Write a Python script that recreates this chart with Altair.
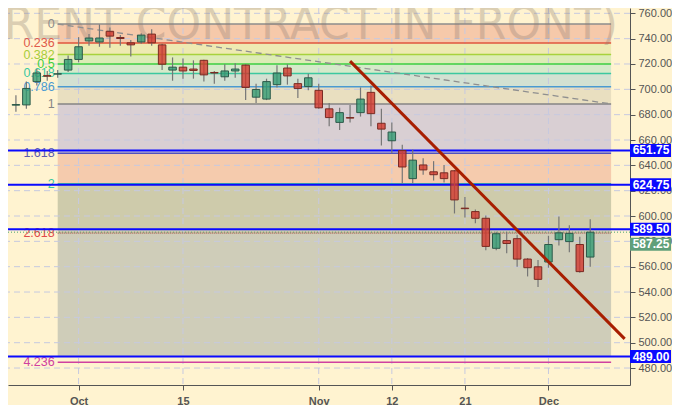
import altair as alt
import pandas as pd

# ---------------- data ----------------
dates = ["Sep 21", "Sep 24", "Sep 25", "Sep 26", "Sep 27", "Sep 28",
         "Oct 1", "Oct 2", "Oct 3", "Oct 4", "Oct 5", "Oct 8", "Oct 9", "Oct 10", "Oct 11", "Oct 12",
         "Oct 15", "Oct 16", "Oct 17", "Oct 18", "Oct 19", "Oct 22", "Oct 23", "Oct 24", "Oct 25", "Oct 26",
         "Oct 29", "Oct 30", "Oct 31", "Nov 1", "Nov 2", "Nov 5", "Nov 6", "Nov 7", "Nov 8", "Nov 9",
         "Nov 12", "Nov 13", "Nov 14", "Nov 15", "Nov 16", "Nov 19", "Nov 20", "Nov 21", "Nov 22", "Nov 23",
         "Nov 26", "Nov 27", "Nov 28", "Nov 29", "Nov 30", "Dec 3", "Dec 4", "Dec 5", "Dec 6", "Dec 7"]
opens = [687.5, 687.7, 706.1, 710.8, 712.0, 715.2, 723.6, 738.2, 737.4, 745.8, 740.9, 736.7, 737.4, 743.6,
         735.1, 715.2, 717.5, 716.0, 722.9, 713.3, 709.9, 714.5, 719.1, 693.8, 692.3, 703.7, 716.8, 704.5,
         702.2, 699.2, 684.6, 673.9, 677.7, 681.6, 697.6, 673.2, 659.4, 651.7, 629.5, 640.3, 634.9, 634.1,
         635.7, 606.2, 603.5, 598.2, 574.5, 580.6, 582.1, 566.0, 559.9, 563.7, 581.3, 579.8, 577.5, 567.6]
highs = [695.3, 706.1, 716.0, 714.5, 715.2, 726.7, 741.2, 743.6, 751.2, 748.9, 742.8, 739.0, 744.3, 747.4,
         735.9, 725.2, 724.4, 722.9, 723.3, 714.5, 719.8, 720.6, 719.8, 704.5, 708.4, 719.1, 719.8, 708.4,
         712.2, 704.5, 689.2, 685.4, 687.7, 701.5, 703.0, 684.6, 673.9, 656.3, 652.5, 645.6, 643.3, 640.3,
         636.4, 615.0, 605.1, 600.5, 587.5, 587.5, 585.2, 566.8, 565.3, 584.4, 599.7, 592.8, 583.6, 597.4]
lows = [682.3, 684.6, 703.0, 706.8, 709.1, 713.7, 721.4, 734.4, 733.6, 732.8, 734.4, 725.9, 735.9, 734.4,
        715.2, 706.8, 708.4, 708.4, 706.1, 704.5, 706.8, 709.1, 691.5, 689.2, 691.5, 701.5, 703.7, 693.1,
        699.2, 684.6, 670.9, 667.8, 673.9, 678.5, 670.9, 655.6, 649.5, 625.7, 625.7, 632.6, 628.0, 626.5,
        602.0, 598.9, 594.3, 572.9, 572.9, 570.6, 559.9, 552.3, 543.9, 559.2, 576.8, 571.4, 555.3, 559.9]
closes = [688.0, 700.7, 712.9, 710.4, 712.3, 723.6, 733.6, 740.5, 740.5, 742.0, 740.1, 735.1, 742.8, 736.7,
          719.8, 717.5, 714.5, 714.9, 711.4, 712.9, 714.5, 716.0, 701.5, 699.9, 706.1, 712.9, 710.6, 700.7,
          709.1, 685.4, 677.7, 681.6, 677.3, 692.3, 680.8, 668.6, 666.3, 638.7, 644.1, 636.4, 632.6, 629.5,
          612.7, 605.8, 598.2, 576.0, 586.0, 578.3, 566.0, 559.2, 550.0, 577.5, 586.7, 586.3, 556.1, 587.25]

tick_dates = ["Oct 1", "Oct 15", "Nov 1", "Nov 12", "Nov 21", "Dec 3"]
tick_labels = ["Oct", "15", "Nov", "12", "21", "Dec"]
y_ticks = [480, 500, 520, 540, 560, 580, 600, 620, 640, 660, 680, 700, 720, 740, 760]

fib_levels = [0, 0.236, 0.382, 0.5, 0.618, 0.786, 1, 1.618, 2, 2.618, 4.236]
fib_labels = ["0", "0.236", "0.382", "0.5", "0.618", "0.786", "1", "1.618", "2", "2.618", "4.236"]
fib_line_colors = ["#8c8c8c", "#e0553c", "#a8d23c", "#3ed23e", "#3cc8a0", "#4a9ad2", "#858585",
                   "#5050c0", "#3cbf9a", "#b07a6a", "#d040a0"]
fib_label_colors = ["#8c8c8c", "#e05a4a", "#a8cc3a", "#3cd03c", "#3cc8a0", "#4a9ad2", "#858585",
                    "#5a5ab0", "#3cc8a0", "#e04a4a", "#d040a0"]
fib_band_colors = ["#f6c9aa", "#eeeab2", "#ddecb6", "#d5eaca", "#d3e1d2", "#e9dfc0",
                   "#d9cfd3", "#f5cbad", "#cecbab", "#cfcdb9"]
fib_high = 751.5
fib_low = 688.5
fib_band_floor = 489.0
fib_x = [4, 57]

blue_levels = [651.75, 624.75, 589.50, 489.00]
last_price = 587.25

trend_x = [32, 58.3]
trend_y = [722.3, 503.0]

watermark = "(BRENT CONTRACT IN FRONT)"

# ---------------- layout / style ----------------
W, H = 622, 377
X_DOMAIN = [-0.28, 58.33]
Y_DOMAIN = [466.6, 764.2]
BG = "#fff3d0"
GREEN, RED = "#2f9a72", "#d2342a"
GREEN_EDGE, RED_EDGE = "#2c5a4a", "#7a2a22"
BLUE = "#0a0aff"
FONT = "Liberation Sans"

tick_idx = [dates.index(d) for d in tick_dates]
label_expr = " : ".join(f"datum.value == {i} ? '{t}'" for i, t in zip(tick_idx, tick_labels)) + " : ''"

xs = alt.Scale(domain=X_DOMAIN, nice=False, zero=False)
ys = alt.Scale(domain=Y_DOMAIN, nice=False, zero=False)
xax = alt.Axis(values=tick_idx, labelExpr=label_expr, title=None, grid=False, orient="bottom",
               domainColor="#555", tickColor="#555", labelColor="#555", labelFont=FONT,
               labelFontSize=11, labelFontWeight="bold", tickSize=5, labelPadding=5)
yax = alt.Axis(values=y_ticks, format=".2f", title=None, grid=False, orient="right",
               domainColor="#555", tickColor="#555", labelColor="#555", labelFont=FONT,
               labelFontSize=11, tickSize=5, labelPadding=3)


def X(f):
    return alt.X(f, type="quantitative", scale=xs, axis=xax)


def Y(f):
    return alt.Y(f, type="quantitative", scale=ys, axis=yax)


# candles
candles = pd.DataFrame({"i": list(range(len(dates))), "date": dates, "open": opens,
                        "high": highs, "low": lows, "close": closes})

# fib tables
rng = fib_high - fib_low
fib_prices = [fib_high - lv * rng for lv in fib_levels]
fib_df = pd.DataFrame({"p": fib_prices, "label": fib_labels, "lc": fib_line_colors,
                       "tc": fib_label_colors, "x0": fib_x[0], "x1": fib_x[1]})
band_bottoms = fib_prices[1:-1] + [fib_band_floor]
band_df = pd.DataFrame({"top": fib_prices[:-1], "bottom": band_bottoms, "c": fib_band_colors,
                        "x0": fib_x[0], "x1": fib_x[1]})

layers = []

# bands
layers.append(alt.Chart(band_df).mark_rect().encode(
    x=X("x0"), x2="x1", y=Y("top"), y2="bottom", color=alt.Color("c:N", scale=None)))

# grid
layers.append(alt.Chart(pd.DataFrame({"v": y_ticks})).mark_rule(
    color="#c6c9e0", strokeDash=[6, 4], strokeWidth=1).encode(y=Y("v")))
layers.append(alt.Chart(pd.DataFrame({"v": tick_idx})).mark_rule(
    color="#c6c9e0", strokeDash=[6, 4], strokeWidth=1).encode(x=X("v")))

# fib level lines (2.618 dotted)
layers.append(alt.Chart(fib_df).transform_filter("datum.label != '2.618'").mark_rule(strokeWidth=1.5).encode(
    x=X("x0"), x2="x1", y=Y("p"), color=alt.Color("lc:N", scale=None)))

# watermark
layers.append(alt.Chart(pd.DataFrame({"t": [watermark]})).mark_text(
    align="right", baseline="middle", font="DejaVu Sans", fontSize=44, color="#8a7a70",
    opacity=0.3).encode(x=alt.value(610), y=alt.value(18), text="t:N"))

# fib labels
layers.append(alt.Chart(fib_df).mark_text(
    align="right", baseline="middle", dx=-3, font=FONT, fontSize=12.5).encode(
    x=X("x0"), y=Y("p"), text="label:N", color=alt.Color("tc:N", scale=None)))

# last price dotted line
layers.append(alt.Chart(pd.DataFrame({"p": [last_price]})).mark_rule(
    color="#4aa070", strokeDash=[1, 2], strokeWidth=1).encode(y=Y("p")))
layers.append(alt.Chart(fib_df).transform_filter("datum.label == '2.618'").mark_rule(
    strokeWidth=1.8, strokeDash=[1, 1]).encode(
    x=X("x0"), x2="x1", y=Y("p"), color=alt.Color("lc:N", scale=None)))

# blue horizontal levels
layers.append(alt.Chart(pd.DataFrame({"p": blue_levels})).mark_rule(
    color=BLUE, strokeWidth=2).encode(y=Y("p")))

# dashed diagonal between fib anchors
layers.append(alt.Chart(pd.DataFrame({"x": fib_x, "p": [fib_high, fib_low]})).mark_line(
    color="#8f8f8f", strokeDash=[6, 4], strokeWidth=1.3).encode(x=X("x"), y=Y("p")))

# wicks and bodies
cbase = alt.Chart(candles).transform_calculate(
    fill=f"datum.close >= datum.open ? '{GREEN}' : '{RED}'",
    edge=f"datum.close >= datum.open ? '{GREEN_EDGE}' : '{RED_EDGE}'")
layers.append(cbase.mark_rule(color="#767676", strokeWidth=1.2).encode(
    x=X("i"), y=Y("low"), y2="high"))
layers.append(cbase.mark_bar(size=7.5, fillOpacity=0.78, strokeWidth=1).encode(
    x=X("i"), y=Y("open"), y2="close",
    fill=alt.Fill("fill:N", scale=None), stroke=alt.Stroke("edge:N", scale=None)))

# red trend line
layers.append(alt.Chart(pd.DataFrame({"x": trend_x, "p": trend_y})).mark_line(
    color="#a81e00", strokeWidth=3).encode(x=X("x"), y=Y("p")))

# right-side price boxes
blue_df = pd.DataFrame({"p": blue_levels, "t": [f"{v:.2f}" for v in blue_levels]})
layers.append(alt.Chart(blue_df).mark_tick(orient="horizontal", size=41, thickness=13, color=BLUE,
                                           opacity=1).encode(
    x=alt.value(W + 20.5), y=Y("p")))
layers.append(alt.Chart(blue_df).mark_text(color="white", font=FONT, fontSize=12, fontWeight="bold",
                                           baseline="middle", align="center").encode(
    x=alt.value(W + 21), y=Y("p"), text="t:N"))
last_df = pd.DataFrame({"p": [last_price], "t": [f"{last_price:.2f}"]})
layers.append(alt.Chart(last_df).mark_tick(orient="horizontal", size=41, thickness=13, color="#5f9f7a",
                                           opacity=1, yOffset=12).encode(
    x=alt.value(W + 20.5), y=Y("p")))
layers.append(alt.Chart(last_df).mark_text(color="white", font=FONT, fontSize=12, fontWeight="bold",
                                           baseline="middle", align="center", yOffset=12).encode(
    x=alt.value(W + 21), y=Y("p"), text="t:N"))

chart = alt.layer(*layers).properties(
    width=W, height=H,
    autosize=alt.AutoSizeParams(type="none"),
    padding={"left": 0, "top": 0, "right": 42, "bottom": 20},
    background=BG,
).configure_view(stroke=None, fill=BG)

chart.save("out.html", embed_options={"renderer": "svg", "actions": False})
